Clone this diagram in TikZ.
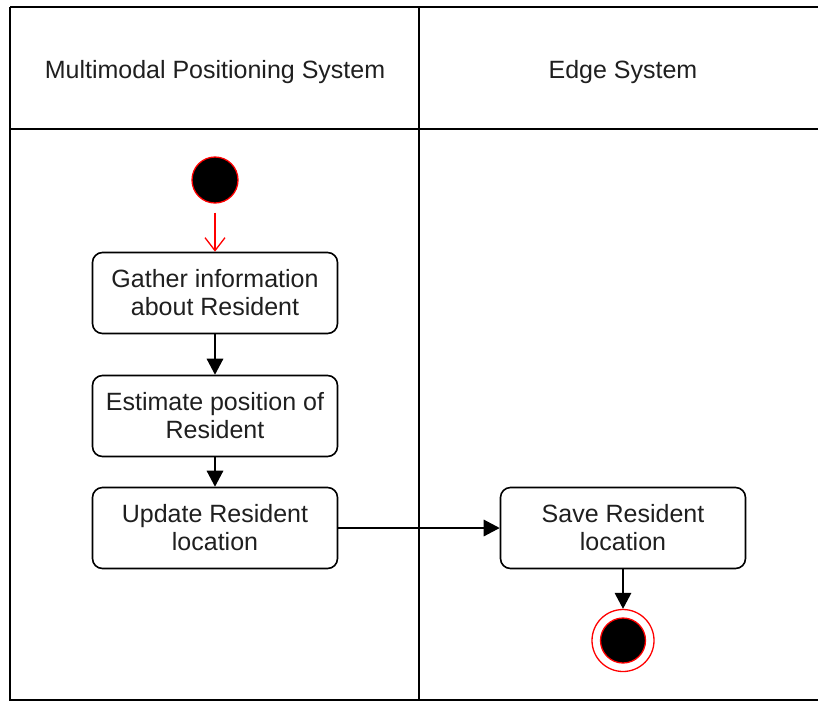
\documentclass[tikz,border=0pt]{standalone}
\usepackage{fontspec}
\setmainfont{Liberation Sans}
\usetikzlibrary{arrows.meta}
\begin{document}
\begin{tikzpicture}[x=1pt,y=-1pt,
  lane/.style={line width=2pt, draw=black},
  action/.style={draw=black, line width=1.6pt, rounded corners=10pt, fill=white,
    minimum width=245pt, minimum height=81pt, align=center,
    font=\fontsize{25}{28}\selectfont, text=black!88, inner sep=0pt},
  lanetitle/.style={font=\fontsize{25}{28}\selectfont, text=black!88},
  flow/.style={line width=1.6pt, -{Triangle[length=16pt,width=16.5pt]}},
  startflow/.style={line width=1.3pt, draw=red, -{Straight Barb[length=13pt,width=20pt,line width=1.3pt]}},
]
\useasboundingbox (0,0) rectangle (818,702);
\begin{scope}
\clip (0,0) rectangle (818,702);
% swimlane frame
\draw[lane] (10,7) -- (840,7);
\draw[lane] (10,129) -- (840,129);
\draw[lane] (10,7) -- (10,700) -- (840,700);
\draw[lane] (419,7) -- (419,700);
\end{scope}

% lane titles
\node[lanetitle] (t1) at (215,72.5) {Multimodal Positioning System};
\node[lanetitle] (t2) at (623,72.5) {Edge System};

% initial node
\node[circle, fill=black, draw=red, line width=1.3pt, minimum size=46pt, inner sep=0pt] (start) at (215,180) {};

% actions
\node[action] (gather) at (215,293) {Gather information\\about Resident};
\node[action] (estimate) at (215,416) {Estimate position of\\Resident};
\node[action] (update) at (215,528) {Update Resident\\location};
\node[action] (save) at (623,528) {Save Resident\\location};

% final node
\node[circle, fill=white, draw=red, line width=1.3pt, minimum size=62pt, inner sep=0pt] (final) at (623,640.5) {};
\node[circle, fill=black, draw=red, line width=1.3pt, minimum size=45pt, inner sep=0pt] (finalin) at (623,640.5) {};

% control flows
\draw[startflow, shorten <=9pt] (start) -- (gather);
\draw[flow] (gather) -- (estimate);
\draw[flow] (estimate) -- (update);
\draw[flow] (update) -- (save);
\draw[flow] (save) -- (final);
\end{tikzpicture}
\end{document}
